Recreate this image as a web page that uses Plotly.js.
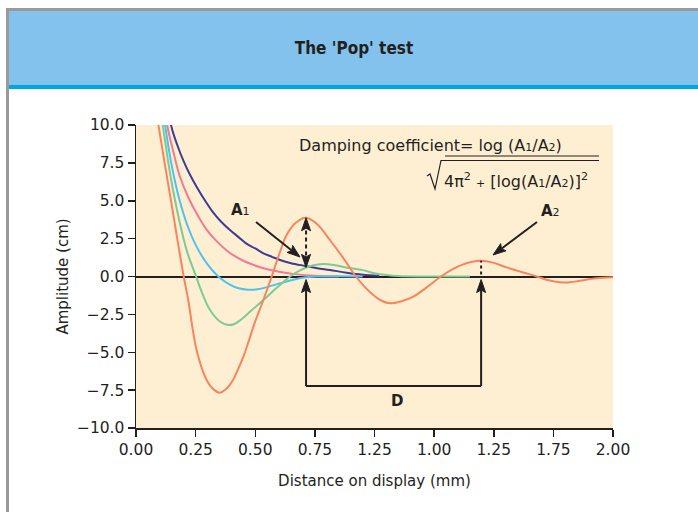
<!DOCTYPE html>
<html>
<head>
<meta charset="utf-8">
<script src="https://cdn.plot.ly/plotly-3.0.1.min.js"></script>
<style>html,body{margin:0;padding:0;background:#fff;}#chart{width:698px;height:512px;}</style>
</head>
<body>
<div id="chart"></div>
<script>
// ---- data ----
const navyX = [0.12, 0.147, 0.175, 0.20, 0.227, 0.254, 0.29, 0.32, 0.355, 0.394, 0.43, 0.46, 0.50, 0.534, 0.57, 0.604, 0.65, 0.709, 0.76, 0.813, 0.883, 0.95, 1.02];
const navyY = [13.5, 10.0, 8.6, 7.6, 6.7, 5.93, 5.0, 4.3, 3.65, 3.07, 2.6, 2.2, 1.85, 1.53, 1.3, 1.09, 0.88, 0.70, 0.55, 0.43, 0.25, 0.12, 0.05];

const pinkX = [0.10, 0.131, 0.157, 0.184, 0.22, 0.254, 0.296, 0.34, 0.394, 0.45, 0.49, 0.534, 0.60, 0.674, 0.75, 0.85];
const pinkY = [14.0, 10.0, 8.2, 6.6, 5.2, 4.17, 3.1, 2.3, 1.55, 1.04, 0.78, 0.55, 0.32, 0.14, 0.05, 0.0];

const cyanX = [0.09, 0.122, 0.15, 0.18, 0.215, 0.254, 0.30, 0.345, 0.39, 0.43, 0.47, 0.51, 0.55, 0.604, 0.65, 0.70, 0.76, 0.85, 0.95];
const cyanY = [14.0, 10.0, 7.3, 5.2, 3.4, 1.97, 0.8, 0.0, -0.5, -0.78, -0.87, -0.84, -0.7, -0.45, -0.25, -0.08, 0.0, 0.02, 0.0];

const greenX = [0.08, 0.112, 0.145, 0.18, 0.215, 0.252, 0.28, 0.31, 0.35, 0.387, 0.41, 0.436, 0.48, 0.534, 0.59, 0.646, 0.69, 0.74, 0.785, 0.83, 0.88, 0.95, 1.0, 1.05, 1.1, 1.2, 1.4];
const greenY = [13.5, 10.0, 6.6, 3.8, 1.6, 0.0, -1.2, -2.2, -2.95, -3.2, -3.15, -2.9, -2.3, -1.55, -0.75, 0.0, 0.42, 0.72, 0.82, 0.76, 0.6, 0.42, 0.22, 0.1, 0.03, 0.0, 0.0];

const orangeX = [0.07, 0.094, 0.12, 0.15, 0.175, 0.20, 0.219, 0.254, 0.296, 0.325, 0.352, 0.38, 0.408, 0.43, 0.45, 0.475, 0.499, 0.534, 0.569, 0.60, 0.632, 0.67, 0.713, 0.76, 0.813, 0.87, 0.922, 0.96, 0.995, 1.03, 1.065, 1.11, 1.163, 1.22, 1.279, 1.33, 1.372, 1.41, 1.447, 1.50, 1.554, 1.62, 1.68, 1.73, 1.778, 1.82, 1.862, 1.93, 2.0];
const orangeY = [12.4, 10.0, 7.5, 4.7, 2.3, 0.0, -1.55, -4.85, -6.83, -7.45, -7.67, -7.4, -6.8, -6.05, -5.3, -4.15, -3.0, -1.55, 0.0, 1.45, 2.75, 3.55, 3.88, 3.45, 2.41, 1.2, 0.0, -0.7, -1.22, -1.6, -1.77, -1.65, -1.33, -0.7, 0.0, 0.5, 0.8, 0.98, 1.04, 0.9, 0.6, 0.28, 0.0, -0.25, -0.38, -0.38, -0.28, -0.12, -0.05];

const xTickVals = [0, 0.25, 0.5, 0.75, 1.0, 1.25, 1.5, 1.75, 2.0];
const xTickText = ["0.00", "0.25", "0.50", "0.75", "1.25", "1.00", "1.25", "1.75", "2.00"];
const yTickVals = [-10, -7.5, -5, -2.5, 0, 2.5, 5, 7.5, 10];

// A1 / A2 measurement points
const a1X = 0.713, a1Top = 3.88, a1Bottom = 0.6;
const a2X = 1.447, a2Top = 1.04;
const dLevel = -7.23;

// ---- layout helpers (pixel <-> paper / data) ----
const W = 698, H = 512, L = 136, R = 613, T = 125, B = 428;
const fx = p => (p - L) / (R - L);
const fy = p => (B - p) / (B - T);
const dx = p => (p - L) / (R - L) * 2;
const dy = p => 10 - (p - T) / (B - T) * 20;
const px = x => L + x / 2 * (R - L);
const py = y => T + (10 - y) / 20 * (B - T);

const FONT = "DejaVu Sans, Open Sans, sans-serif";
const INK = "#231f20";

function line(x, y, color) {
  return {x: x, y: y, type: "scatter", mode: "lines", line: {color: color, width: 2, shape: "spline", smoothing: 1}, hoverinfo: "skip", showlegend: false, cliponaxis: true};
}
const traces = [
  line(navyX, navyY, "#3d3b96"),
  line(pinkX, pinkY, "#f07a92"),
  line(cyanX, cyanY, "#4dc2ef"),
  line(greenX, greenY, "#7ccb94"),
  line(orangeX, orangeY, "#f8845f")
];

const sub = s => "<span style='font-size:11px'>" + s + "</span>";

const shapes = [
  // frame + header
  {type: "rect", xref: "paper", yref: "paper", x0: fx(6), x1: fx(9), y0: fy(520), y1: fy(8), fillcolor: "#9a9a9a", line: {width: 0}, layer: "below"},
  {type: "rect", xref: "paper", yref: "paper", x0: fx(6), x1: fx(710), y0: fy(11), y1: fy(8), fillcolor: "#9a9a9a", line: {width: 0}, layer: "below"},
  {type: "rect", xref: "paper", yref: "paper", x0: fx(9), x1: fx(710), y0: fy(85), y1: fy(11), fillcolor: "#83c2ec", line: {width: 0}, layer: "below"},
  {type: "rect", xref: "paper", yref: "paper", x0: fx(9), x1: fx(710), y0: fy(89), y1: fy(85), fillcolor: "#00a5e3", line: {width: 0}, layer: "below"},
  // dashed A1 line
  {type: "line", xref: "x", yref: "y", x0: a1X, x1: a1X, y0: dy(py(a1Bottom) - 12), y1: dy(py(a1Top) + 12), line: {color: INK, width: 2, dash: "4px,3px"}},
  // dotted A2 line
  {type: "line", xref: "x", yref: "y", x0: a2X, x1: a2X, y0: dy(py(0) - 2), y1: a2Top, line: {color: INK, width: 2, dash: "3px,3px"}},
  // D bracket bottom
  {type: "line", xref: "x", yref: "y", x0: a1X, x1: a2X, y0: dLevel, y1: dLevel, line: {color: INK, width: 2}},
  // formula fraction bar
  {type: "line", xref: "x", yref: "y", x0: dx(445), x1: dx(599), y0: dy(156), y1: dy(156), line: {color: INK, width: 1}},
  // square root sign
  {type: "path", xref: "x", yref: "y",
   path: "M" + dx(427) + "," + dy(176) + " L" + dx(430) + "," + dy(174) + " L" + dx(435) + "," + dy(189) + " L" + dx(441) + "," + dy(160.5) + " L" + dx(599) + "," + dy(160.5),
   line: {color: INK, width: 1.2}}
];

// arrows drawn as line + filled head (all in pixel space, converted to data units)
function arrow(tx, ty, hx, hy, dash) {
  const len = Math.hypot(hx - tx, hy - ty);
  const ux = (hx - tx) / len, uy = (hy - ty) / len;
  const nx = -uy, ny = ux;
  const HL = 13, HW = 4.5, NOTCH = 2.5;
  const bx = hx - ux * HL, by = hy - uy * HL;
  const kx = hx - ux * (HL - NOTCH), ky = hy - uy * (HL - NOTCH);
  if (len > HL) {
    shapes.push({type: "line", xref: "x", yref: "y", x0: dx(tx), y0: dy(ty), x1: dx(kx), y1: dy(ky),
                 line: {color: INK, width: 2, dash: dash || "solid"}});
  }
  shapes.push({type: "path", xref: "x", yref: "y",
    path: "M" + dx(hx) + "," + dy(hy) + " L" + dx(bx + nx * HW) + "," + dy(by + ny * HW) +
          " L" + dx(kx) + "," + dy(ky) + " L" + dx(bx - nx * HW) + "," + dy(by - ny * HW) + " Z",
    fillcolor: INK, line: {color: INK, width: 1}});
}
arrow(256, 222, 300, 257);                                  // A1 pointer
arrow(537, 222, 493, 255);                                  // A2 pointer
arrow(px(a1X), py(a1Top) + 13, px(a1X), py(a1Top));          // A1 dashed, up head
arrow(px(a1X), py(a1Bottom) - 13, px(a1X), py(a1Bottom));    // A1 dashed, down head
arrow(px(a1X), py(dLevel), px(a1X), py(0) + 3);              // D left
arrow(px(a2X), py(dLevel), px(a2X), py(0) + 3);              // D right

const annotations = [
  {x: dx(297), y: dy(145), xref: "x", yref: "y", xanchor: "left", yanchor: "middle", showarrow: false,
   text: "Damping coefficient= log (A" + sub("1") + "/A" + sub("2") + ")", font: {family: FONT, size: 16, color: INK}},
  {x: dx(442), y: dy(180), xref: "x", yref: "y", xanchor: "left", yanchor: "middle", showarrow: false,
   text: "4π<sup>2</sup> <span style='font-size:11px'>+</span> [log(A" + sub("1") + "/A" + sub("2") + ")]<sup>2</sup>", font: {family: FONT, size: 16, color: INK}},
  {x: dx(240), y: dy(210), xref: "x", yref: "y", showarrow: false, text: "<b>A</b>" + sub("1"), font: {family: FONT, size: 15, color: INK}},
  {x: dx(550), y: dy(211), xref: "x", yref: "y", showarrow: false, text: "<b>A</b>" + sub("2"), font: {family: FONT, size: 15, color: INK}},
  {x: dx(397), y: dy(401), xref: "x", yref: "y", showarrow: false, text: "<b>D</b>", font: {family: FONT, size: 15, color: INK}}
];

const layout = {
  width: W, height: H,
  margin: {l: L, r: W - R, t: T, b: H - B, pad: 0},
  paper_bgcolor: "#ffffff",
  plot_bgcolor: "#feefd3",
  font: {family: FONT, size: 15, color: INK},
  title: {text: "<b>The 'Pop' test</b>", xref: "paper", x: fx(354), xanchor: "center", yref: "container", y: 1 - 48 / H, yanchor: "middle",
          font: {family: "DejaVu Sans Condensed, DejaVu Sans, sans-serif", size: 17, color: INK}},
  showlegend: false,
  xaxis: {range: [0, 2], tickvals: xTickVals, ticktext: xTickText, showgrid: false, zeroline: false,
          showline: true, linecolor: INK, linewidth: 1.5, ticks: "outside", ticklen: 7, tickwidth: 1.5, tickcolor: INK,
          tickfont: {family: FONT, size: 15.5, color: INK},
          title: {text: "Distance on display (mm)", font: {family: FONT, size: 15, color: INK}, standoff: 17}},
  yaxis: {range: [-10, 10], tickvals: yTickVals, tickformat: ".1f", showgrid: false,
          zeroline: true, zerolinecolor: INK, zerolinewidth: 2,
          showline: true, linecolor: INK, linewidth: 1.5, ticks: "outside", ticklen: 7, tickwidth: 1.5, tickcolor: INK,
          tickfont: {family: FONT, size: 15.5, color: INK},
          title: {text: "Amplitude (cm)", font: {family: FONT, size: 15, color: INK}, standoff: 4}},
  shapes: shapes,
  annotations: annotations
};

Plotly.newPlot("chart", traces, layout, {staticPlot: true, displayModeBar: false});
</script>
</body>
</html>
